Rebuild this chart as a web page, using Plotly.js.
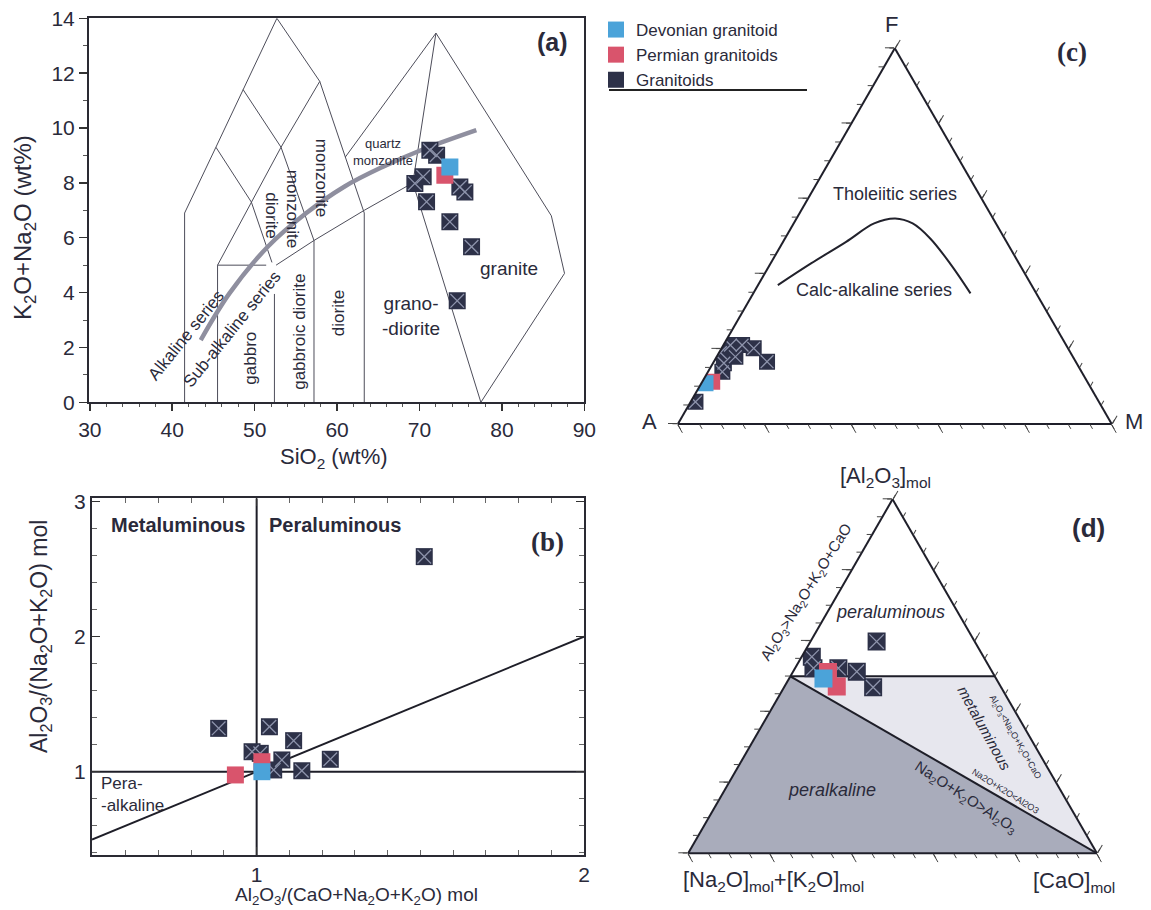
<!DOCTYPE html>
<html><head><meta charset="utf-8">
<script src="https://cdn.plot.ly/plotly-3.0.1.min.js"></script>
<style>html,body{margin:0;padding:0;background:#fff}#chart{width:1151px;height:910px}</style>
</head><body><div id="chart"></div>
<script>
// ================= DATA =================
// (a) TAS diagram
const tasGranitoidSiO2 = [71.26, 72.08, 69.44, 70.45, 74.90, 75.51, 70.86, 73.69, 76.32, 74.58];
const tasGranitoidAlk  = [9.19, 9.01, 7.98, 8.22, 7.85, 7.67, 7.31, 6.58, 5.67, 3.70];
const tasPermianSiO2 = [73.08];
const tasPermianAlk  = [8.28];
const tasDevonianSiO2 = [73.69];
const tasDevonianAlk  = [8.58];
// field boundaries (segments separated by null)
const tasFieldSiO2 = [41.5,41.5,45.3,48.6,52.7,57.9,63.3,63.3,null,
  45.5,45.5,51.4,null,
  45.5,49.6,53.2,57.9,null,
  45.3,49.6,52.1,null,
  48.6,53.2,57.2,57.2,null,
  52.4,52.4,null,
  52.6,57.2,63.3,69.2,null,
  69.2,77.45,null,
  69.2,72.0,null,
  61.0,72.0,86.0,87.6,77.45];
const tasFieldAlk = [0,6.9,9.3,11.4,14,11.7,6.9,0,null,
  0,5,5,null,
  5,7.3,9.3,11.7,null,
  9.3,7.3,5.1,null,
  11.4,9.3,5.9,0,null,
  0,3.95,null,
  5.0,5.9,7.0,8.0,null,
  8.0,0,null,
  8.0,13.46,null,
  8.94,13.46,6.8,4.7,0];
// Alkaline / sub-alkaline divide
const ibSiO2 = [43.46, 46.94, 51.59, 56.23, 60.87, 65.52, 70.17, 76.9];
const ibAlk  = [2.27, 3.97, 5.67, 6.89, 7.86, 8.58, 9.19, 9.92];

// (b) A/NK vs A/CNK
const shandGranitoidACNK = [0.884, 1.039, 1.113, 0.986, 1.011, 1.077, 1.225, 1.138, 1.052, 1.512];
const shandGranitoidANK  = [1.321, 1.333, 1.230, 1.148, 1.136, 1.087, 1.092, 1.007, 1.013, 2.593];
const shandPermianACNK = [0.935, 1.016];
const shandPermianANK  = [0.976, 1.074];
const shandDevonianACNK = [1.016];
const shandDevonianANK  = [1.0];
const shandLineACNK = [1, 1, null, 0.497, 2.0, null, 0.497, 2.0];
const shandLineANK  = [0.383, 3.025, null, 1, 1, null, 0.497, 2.0];

// (c) AFM
const afmGranitoidA = [0.930, 0.828, 0.807, 0.774, 0.747, 0.7245, 0.813, 0.778, 0.7116];
const afmGranitoidF = [0.059, 0.139, 0.190, 0.210, 0.210, 0.2015, 0.162, 0.179, 0.1658];
const afmGranitoidM = [0.011, 0.033, 0.003, 0.016, 0.043, 0.074, 0.025, 0.043, 0.1226];
const afmPermianA = [0.8646]; const afmPermianF = [0.1126]; const afmPermianM = [0.0228];
const afmDevonianA = [0.882]; const afmDevonianF = [0.1083]; const afmDevonianM = [0.0095];
const afmCurveA = [0.5848, 0.4794, 0.3698, 0.2807, 0.2255, 0.1919, 0.1714, 0.1584, 0.1517];
const afmCurveF = [0.3697, 0.4274, 0.4848, 0.5338, 0.5471, 0.5338, 0.4939, 0.4229, 0.3476];
const afmCurveM = [0.0455, 0.0932, 0.1454, 0.1855, 0.2274, 0.2743, 0.3347, 0.4187, 0.5007];

// (d) Al2O3 - (Na2O+K2O) - CaO
const acnkGranitoidAl = [0.598, 0.555, 0.523, 0.523, 0.513, 0.469];
const acnkGranitoidNK = [0.240, 0.420, 0.432, 0.371, 0.331, 0.313];
const acnkGranitoidCa = [0.162, 0.025, 0.045, 0.106, 0.156, 0.218];
const acnkPermianAl = [0.512, 0.471]; const acnkPermianNK = [0.402, 0.401]; const acnkPermianCa = [0.086, 0.128];
const acnkDevonianAl = [0.494]; const acnkDevonianNK = [0.422]; const acnkDevonianCa = [0.084];
const peralkAl = [0.5, 0, 0, 0.5]; const peralkNK = [0.5, 1, 0, 0.5]; const peralkCa = [0, 0, 1, 0];
const metalAl = [0.5, 0.5, 0, 0.5]; const metalNK = [0.5, 0, 0, 0.5]; const metalCa = [0, 0.5, 1, 0];
const boundAl = [0.5, 0.5, null, 0.5, 0]; const boundNK = [0.5, 0, null, 0.5, 0]; const boundCa = [0, 0.5, null, 0, 1];

const seriesNames = ['Devonian granitoid', 'Permian granitoids', 'Granitoids'];

// ================= STYLE =================
const FONT = 'Liberation Sans, Arial, sans-serif';
const SERIF = 'Liberation Serif, Times New Roman, serif';
const TXT = '#2a2a3a';
const DARK = '#2d3148';
const XLINE = '#8d93ab';
const RED = '#d9546c';
const BLUE = '#4ba3d9';
const W = 1151, H = 910;
const px = v => v / W, py = v => 1 - v / H;

const traces = [];
function cart(xs, ys, xa, ya, color, size, name, showlegend, rank, withX) {
  traces.push({type:'scatter', mode:'markers', x:xs, y:ys, xaxis:xa, yaxis:ya, name:name,
    legendgroup:name, showlegend:showlegend, legendrank:rank,
    marker:{symbol:'square', size:size, color:color, line:{width:0}}, hoverinfo:'x+y'});
  if (withX) traces.push({type:'scatter', mode:'markers', x:xs, y:ys, xaxis:xa, yaxis:ya,
    legendgroup:name, showlegend:false, hoverinfo:'skip',
    marker:{symbol:'x-thin-open', size:size*0.8, color:XLINE, line:{width:1.3, color:XLINE}}});
}
function tern(as, bs, cs, sub, color, size, name, withX) {
  traces.push({type:'scatterternary', mode:'markers', a:as, b:bs, c:cs, subplot:sub, name:name,
    legendgroup:name, showlegend:false, marker:{symbol:'square', size:size, color:color, line:{width:0}}});
  if (withX) traces.push({type:'scatterternary', mode:'markers', a:as, b:bs, c:cs, subplot:sub,
    legendgroup:name, showlegend:false, hoverinfo:'skip',
    marker:{symbol:'x-thin-open', size:size*0.8, color:XLINE, line:{width:1.3, color:XLINE}}});
}

// (a)
traces.push({type:'scatter', mode:'lines', x:tasFieldSiO2, y:tasFieldAlk, xaxis:'x', yaxis:'y',
  line:{color:'#4d4d5a', width:1}, showlegend:false, hoverinfo:'skip'});
traces.push({type:'scatter', mode:'lines', x:ibSiO2, y:ibAlk, xaxis:'x', yaxis:'y',
  line:{color:'#8f8f9f', width:4.5, shape:'spline'}, showlegend:false, hoverinfo:'skip'});
cart(tasGranitoidSiO2, tasGranitoidAlk, 'x', 'y', DARK, 17, seriesNames[2], true, 3, true);
cart(tasPermianSiO2, tasPermianAlk, 'x', 'y', RED, 17, seriesNames[1], true, 2, false);
cart(tasDevonianSiO2, tasDevonianAlk, 'x', 'y', BLUE, 17, seriesNames[0], true, 1, false);

// (b)
traces.push({type:'scatter', mode:'lines', x:shandLineACNK, y:shandLineANK, xaxis:'x2', yaxis:'y2',
  line:{color:'#1e1e28', width:2}, showlegend:false, hoverinfo:'skip'});
cart(shandGranitoidACNK, shandGranitoidANK, 'x2', 'y2', DARK, 17, seriesNames[2], false, 3, true);
cart(shandPermianACNK, shandPermianANK, 'x2', 'y2', RED, 17, seriesNames[1], false, 2, false);
cart(shandDevonianACNK, shandDevonianANK, 'x2', 'y2', BLUE, 17, seriesNames[0], false, 1, false);

// (c)
traces.push({type:'scatterternary', mode:'lines', a:afmCurveF, b:afmCurveA, c:afmCurveM, subplot:'ternary',
  line:{color:'#22222c', width:2, shape:'spline'}, showlegend:false, hoverinfo:'skip'});
tern(afmGranitoidF, afmGranitoidA, afmGranitoidM, 'ternary', DARK, 16, seriesNames[2], true);
tern(afmPermianF, afmPermianA, afmPermianM, 'ternary', RED, 16, seriesNames[1], false);
tern(afmDevonianF, afmDevonianA, afmDevonianM, 'ternary', BLUE, 16, seriesNames[0], false);
traces.push({type:'scatterternary', a:[], b:[], c:[], subplot:'ternary2', showlegend:false});

// (d)
traces.push({type:'scatterternary', mode:'lines', a:peralkAl, b:peralkNK, c:peralkCa, subplot:'ternary3',
  fill:'toself', fillcolor:'#a9acbb', line:{width:0, color:'#a9acbb'}, showlegend:false, hoverinfo:'skip'});
traces.push({type:'scatterternary', mode:'lines', a:metalAl, b:metalNK, c:metalCa, subplot:'ternary3',
  fill:'toself', fillcolor:'#e7e7ee', line:{width:0, color:'#e7e7ee'}, showlegend:false, hoverinfo:'skip'});
traces.push({type:'scatterternary', mode:'lines', a:boundAl, b:boundNK, c:boundCa, subplot:'ternary3',
  line:{color:'#1e1e28', width:2}, showlegend:false, hoverinfo:'skip'});
tern(acnkGranitoidAl, acnkGranitoidNK, acnkGranitoidCa, 'ternary3', DARK, 18, seriesNames[2], true);
tern(acnkPermianAl, acnkPermianNK, acnkPermianCa, 'ternary3', RED, 18, seriesNames[1], false);
tern(acnkDevonianAl, acnkDevonianNK, acnkDevonianCa, 'ternary3', BLUE, 18, seriesNames[0], false);
traces.push({type:'scatterternary', a:[], b:[], c:[], subplot:'ternary4', showlegend:false});

// ================= LAYOUT =================
function tax(dtick, len, showline) {
  return {showgrid:false, showticklabels:false, ticks:'outside', ticklen:len, tickwidth:1,
    tickcolor:'#444', dtick:dtick, tick0:0, showline:showline, linecolor:'#1f1f2a',
    linewidth:showline ? 2 : 0, title:{text:''}, layer:'above traces'};
}
function ternLayout(x0, x1, y0, y1, major) {
  const d = {x:[px(x0), px(x1)], y:[py(y1), py(y0)]};
  return major
    ? {domain:d, sum:1, bgcolor:'rgba(0,0,0,0)', aaxis:tax(0.2, 9, true), baxis:tax(0.2, 9, true), caxis:tax(0.2, 9, true)}
    : {domain:d, sum:1, bgcolor:'rgba(0,0,0,0)', aaxis:tax(0.05, 5, false), baxis:tax(0.05, 5, false), caxis:tax(0.05, 5, false)};
}

const ann = [];
function A(text, x, y, size, opts) {
  ann.push(Object.assign({text:text, x:x, y:y, xref:'paper', yref:'paper', showarrow:false,
    xanchor:'center', yanchor:'middle', font:{family:FONT, size:size, color:TXT}}, opts || {}));
}
function AD(text, x, y, xr, yr, size, opts) {
  ann.push(Object.assign({text:text, x:x, y:y, xref:xr, yref:yr, showarrow:false,
    xanchor:'center', yanchor:'middle', font:{family:FONT, size:size, color:TXT}}, opts || {}));
}
// (a) texts
A('K<sub>2</sub>O+Na<sub>2</sub>O (wt%)', px(24), py(228), 24, {textangle:-90});
A('SiO<sub>2</sub> (wt%)', px(334), py(458), 22);
A('<b>(a)</b>', px(552), py(42), 25);
AD('Alkaline series', 41.65, 2.45, 'x', 'y', 17, {textangle:-51});
AD('Sub-alkaline series', 47.2, 2.67, 'x', 'y', 17, {textangle:-51});
AD('gabbro', 49.5, 1.61, 'x', 'y', 17, {textangle:-90});
AD('gabbroic diorite', 55.5, 2.57, 'x', 'y', 17, {textangle:-90});
AD('diorite', 60.2, 3.24, 'x', 'y', 17, {textangle:-90});
AD('monzonite', 58.1, 8.17, 'x', 'y', 17, {textangle:90});
AD('monzonite', 54.6, 7.07, 'x', 'y', 17, {textangle:90});
AD('diorite', 52.1, 6.82, 'x', 'y', 17, {textangle:90});
AD('quartz<br>monzonite', 65.6, 9.12, 'x', 'y', 13);
AD('granite', 80.85, 4.89, 'x', 'y', 19);
AD('grano-<br>-diorite', 69.0, 3.14, 'x', 'y', 19);
// (b) texts
A('Al<sub>2</sub>O<sub>3</sub>/(Na<sub>2</sub>O+K<sub>2</sub>O) mol', px(40), py(637), 23, {textangle:-90});
A('Al<sub>2</sub>O<sub>3</sub>/(CaO+Na<sub>2</sub>O+K<sub>2</sub>O) mol', px(356), py(896), 19);
A('<b>Metaluminous</b>', px(178), py(525), 20);
A('<b>Peraluminous</b>', px(335), py(525), 20);
A('<b>(b)</b>', px(547), py(542), 27, {font:{family:SERIF, size:27, color:TXT}});
A('Pera-<br>-alkaline', px(99), py(794), 17, {xanchor:'left', align:'left'});
// (c) texts
A('F', px(891), py(24), 22);
A('A', px(649), py(421), 22);
A('M', px(1134), py(421), 22);
A('<b>(c)</b>', px(1072), py(52), 27, {font:{family:SERIF, size:27, color:TXT}});
A('Tholeiitic series', px(895), py(194), 18);
A('Calc-alkaline series', px(874), py(290), 18);
// (d) texts
A('[Al<sub>2</sub>O<sub>3</sub>]<sub>mol</sub>', px(885), py(477), 22);
A('[Na<sub>2</sub>O]<sub>mol</sub>+[K<sub>2</sub>O]<sub>mol</sub>', px(773), py(881), 22);
A('[CaO]<sub>mol</sub>', px(1074), py(882), 22);
A('<b>(d)</b>', px(1088), py(528), 26);
A('<i>peraluminous</i>', px(890), py(612), 18);
A('Al<sub>2</sub>O<sub>3</sub>&gt;Na<sub>2</sub>O+K<sub>2</sub>O+CaO', px(806), py(592), 15, {textangle:-58});
A('<i>metaluminous</i>', px(985), py(728), 15, {textangle:61});
A('Al<sub>2</sub>O<sub>3</sub>&lt;Na<sub>2</sub>O+K<sub>2</sub>O+CaO', px(1015.5), py(737), 9, {textangle:60});
A('Na2O+K2O&lt;Al2O3', px(1005), py(791), 9, {textangle:32});
A('Na<sub>2</sub>O+K<sub>2</sub>O&gt;Al<sub>2</sub>O<sub>3</sub>', px(966), py(797), 15, {textangle:33});
A('<i>peralkaline</i>', px(832), py(790), 18);

const axisCommon = {showgrid:false, zeroline:false, showline:true, linewidth:2, linecolor:'#2a2a33',
  tickcolor:'#333', tickwidth:1.5, tickfont:{family:FONT, size:21, color:TXT}};

const layout = {
  width:W, height:H, margin:{l:0, r:0, t:0, b:0}, paper_bgcolor:'#fff', plot_bgcolor:'rgba(0,0,0,0)',
  font:{family:FONT, color:TXT},
  showlegend:true,
  legend:{x:px(596), y:py(12), xanchor:'left', yanchor:'top', bgcolor:'rgba(0,0,0,0)',
    font:{family:FONT, size:17, color:TXT}, tracegroupgap:0, itemwidth:30},
  xaxis:Object.assign({}, axisCommon, {domain:[px(89), px(584.3)], range:[29.9, 90], tick0:30, dtick:10,
    ticks:'outside', ticklen:7, mirror:true, anchor:'y',
    minor:{dtick:2, ticks:'outside', ticklen:3, tickcolor:'#555', tickwidth:1}}),
  yaxis:Object.assign({}, axisCommon, {domain:[py(402.3), py(18.3)], range:[0, 14], tick0:0, dtick:2,
    ticks:'outside', ticklen:8, mirror:true, anchor:'x',
    minor:{dtick:1, ticks:'outside', ticklen:4, tickcolor:'#555', tickwidth:1}}),
  xaxis2:Object.assign({}, axisCommon, {domain:[px(92), px(584)], range:[0.497, 2.0], tick0:0, dtick:1,
    ticks:'inside', ticklen:8, mirror:'allticks', anchor:'y2',
    minor:{dtick:0.1, tick0:0, ticks:'inside', ticklen:5, tickcolor:'#666', tickwidth:1}}),
  yaxis2:Object.assign({}, axisCommon, {domain:[py(855), py(498.3)], range:[0.383, 3.025], tick0:0, dtick:1,
    ticks:'inside', ticklen:8, mirror:'allticks', anchor:'x2',
    minor:{dtick:0.2, tick0:0, ticks:'inside', ticklen:5, tickcolor:'#666', tickwidth:1}}),
  ternary:ternLayout(677.3, 1112.3, 48.3, 424, true),
  ternary2:ternLayout(677.3, 1112.3, 48.3, 424, false),
  ternary3:ternLayout(687.9, 1097.2, 499.3, 853.3, true),
  ternary4:ternLayout(687.9, 1097.2, 499.3, 853.3, false),
  annotations:ann,
  shapes:[{type:'line', xref:'paper', yref:'paper', x0:px(609), x1:px(807), y0:py(90), y1:py(90),
    line:{color:'#222', width:2}}]
};

Plotly.newPlot('chart', traces, layout, {staticPlot:true, displayModeBar:false});
</script>
</body></html>
